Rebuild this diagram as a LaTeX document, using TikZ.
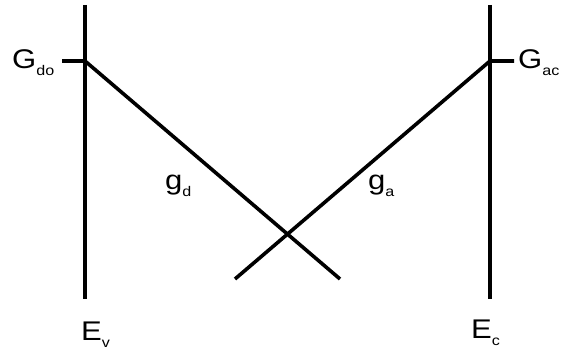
\documentclass[tikz,border=0pt]{standalone}
\usepackage{fontspec}
\setmainfont{Liberation Sans}
\usetikzlibrary{positioning}
\tikzset{
  band/.style={line width=3.6pt},
  lbl/.style={inner sep=0pt, anchor=base west, font=\fontsize{27}{27}\selectfont},
}
\newcommand{\sub}[2]{\scalebox{1.15}[1]{#1\raisebox{-7pt}{\fontsize{14}{14}\selectfont #2}}}

\begin{document}
\begin{tikzpicture}[x=1pt,y=-1pt]
    \useasboundingbox (0,0) rectangle (569,353);
    % band edges
    \coordinate (vtop) at (85,5);
    \coordinate (vbot) at (85,299);
    \coordinate (ctop) at (490,5);
    \coordinate (cbot) at (490,299);
    % trap levels
    \coordinate (gdo) at (85,61);
    \coordinate (gac) at (490,61);
    \coordinate (dotick) at (62,61);
    \coordinate (actick) at (514,61);
    \coordinate (dend) at (340,279);
    \coordinate (aend) at (235,279);
    \draw[band] (vtop) -- (vbot);
    \draw[band] (ctop) -- (cbot);
    \draw[band] (dotick) -- (gdo) -- (dend);
    \draw[band] (actick) -- (gac) -- (aend);
    \node[lbl] (Gdo) at (12,68) {\sub{G}{do}};
    \node[lbl] (Gac) at (518,68) {\sub{G}{ac}};
    \node[lbl] (gd) at (165,189) {\sub{g}{d}};
    \node[lbl] (ga) at (368,189) {\sub{g}{a}};
    \node[lbl] (Ev) at (81,340) {\sub{E}{v}};
    \node[lbl] (Ec) at (471,338) {\sub{E}{c}};
  \end{tikzpicture}
\end{document}
